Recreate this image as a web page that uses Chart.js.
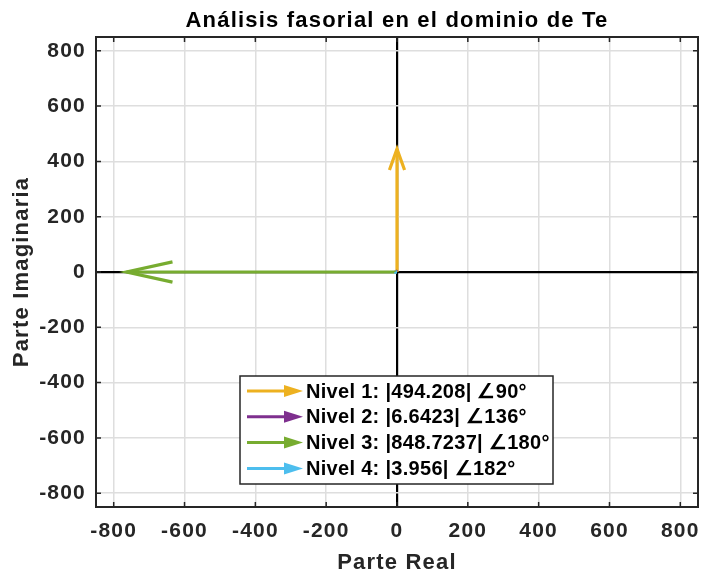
<!DOCTYPE html>
<html>
<head>
<meta charset="utf-8">
<script src="https://cdn.jsdelivr.net/npm/chart.js@4"></script>
<style>
  body { margin: 0; background: #fff; }
  #wrap { width: 701px; height: 577px; }
</style>
</head>
<body>
<div id="wrap"><canvas id="myChart"></canvas></div>
<script>
// phasor data (magnitude, angle in degrees)
var levelNames = ['Nivel 1', 'Nivel 2', 'Nivel 3', 'Nivel 4'];
var magnitudes = [494.208, 6.6423, 848.7237, 3.956];
var magText = ['494.208', '6.6423', '848.7237', '3.956'];
var anglesDeg = [90, 136, 180, 182];
var xTicks = [-800, -600, -400, -200, 0, 200, 400, 600, 800];
var yTicks = [-800, -600, -400, -200, 0, 200, 400, 600, 800];

var colors = ['#EDB120', '#7E2F8E', '#77AC30', '#4DBEEE'];
var quiverScale = 0.9;
var FONT = '"Liberation Sans", Arial, sans-serif';
var AXIS_COLOR = '#262626';
var SPACING = '1.2px';

var datasets = [];
for (var i = 0; i < magnitudes.length; i++) {
    var a = anglesDeg[i] * Math.PI / 180;
    var c = Math.cos(a), s = Math.sin(a);
    var L = magnitudes[i] * quiverScale;
    var tip = { x: L * c, y: L * s };
    var back = 0.17 * L, side = 0.048 * L;
    var h1 = { x: tip.x - back * c - side * s, y: tip.y - back * s + side * c };
    var h2 = { x: tip.x - back * c + side * s, y: tip.y - back * s - side * c };
    datasets.push({
        label: levelNames[i] + ': |' + magText[i] + '| \u2220' + anglesDeg[i] + '\u00B0',
        data: [{ x: 0, y: 0 }, tip],
        borderColor: colors[i],
        backgroundColor: colors[i],
        borderWidth: 3.2,
        showLine: true,
        pointRadius: 0,
        order: -2 * i
    });
    datasets.push({
        label: '_head' + i,
        data: [h1, tip, h2],
        borderColor: colors[i],
        backgroundColor: colors[i],
        borderWidth: 3.2,
        showLine: true,
        pointRadius: 0,
        order: -2 * i - 1
    });
}

// wider letter spacing, box, inner ticks, title and legend like the original figure
var boxPlugin = {
    id: 'boxPlugin',
    beforeLayout: function(chart) { chart.ctx.letterSpacing = SPACING; },
    beforeDraw: function(chart) { chart.ctx.letterSpacing = SPACING; },
    afterDatasetsDraw: function(chart) {
        var ctx = chart.ctx, area = chart.chartArea;
        var xs = chart.scales.x, ys = chart.scales.y;
        ctx.save();
        ctx.strokeStyle = AXIS_COLOR;
        ctx.lineWidth = 1.5;
        ctx.beginPath();
        xTicks.forEach(function(t) {
            var px = xs.getPixelForValue(t);
            ctx.moveTo(px, area.bottom); ctx.lineTo(px, area.bottom - 5);
            ctx.moveTo(px, area.top); ctx.lineTo(px, area.top + 5);
        });
        yTicks.forEach(function(t) {
            var py = ys.getPixelForValue(t);
            ctx.moveTo(area.left, py); ctx.lineTo(area.left + 5, py);
            ctx.moveTo(area.right, py); ctx.lineTo(area.right - 5, py);
        });
        ctx.stroke();
        ctx.lineWidth = 2;
        ctx.strokeRect(area.left, area.top, area.right - area.left, area.bottom - area.top);

        // title centred over the axes
        ctx.fillStyle = '#000';
        ctx.font = 'bold 22px ' + FONT;
        ctx.textAlign = 'center';
        ctx.textBaseline = 'middle';
        ctx.fillText('Análisis fasorial en el dominio de Te', (area.left + area.right) / 2, 21);

        // legend
        var lx = 240, ly = 376, lw = 313, lh = 108;
        ctx.fillStyle = '#fff';
        ctx.fillRect(lx, ly, lw, lh);
        ctx.lineWidth = 1.5;
        ctx.strokeStyle = AXIS_COLOR;
        ctx.strokeRect(lx, ly, lw, lh);
        var rows = chart.data.datasets.filter(function(d) { return d.label.indexOf('_head') !== 0; });
        ctx.letterSpacing = '0.3px';
        ctx.font = 'bold 20px ' + FONT;
        ctx.textBaseline = 'middle';
        ctx.textAlign = 'left';
        rows.forEach(function(d, k) {
            var y = ly + 15 + k * 25.8;
            ctx.strokeStyle = d.borderColor;
            ctx.fillStyle = d.borderColor;
            ctx.lineWidth = 3;
            ctx.beginPath();
            ctx.moveTo(247, y); ctx.lineTo(290, y);
            ctx.stroke();
            ctx.beginPath();
            ctx.moveTo(303, y); ctx.lineTo(284, y - 6); ctx.lineTo(284, y + 6);
            ctx.closePath();
            ctx.fill();
            ctx.fillStyle = '#000';
            ctx.fillText(d.label, 306, y + 1);
        });
        ctx.restore();
    }
};

var ctx = document.getElementById('myChart').getContext('2d');
var myChart = new Chart(ctx, {
    type: 'scatter',
    data: { datasets: datasets },
    options: {
        responsive: true,
        maintainAspectRatio: false,
        animation: false,
        layout: { padding: { left: 0, right: 3, top: 37, bottom: 0 } },
        plugins: {
            legend: { display: false },
            tooltip: { enabled: false },
            title: { display: false }
        },
        scales: {
            x: {
                type: 'linear',
                min: -850,
                max: 850,
                afterBuildTicks: function(scale) {
                    scale.ticks = xTicks.map(function(v) { return { value: v }; });
                },
                afterFit: function(scale) {
                    scale.height = 70;
                    scale.paddingLeft = 0;
                    scale.paddingRight = 0;
                },
                grid: {
                    drawTicks: false,
                    color: function(c) { return c.tick && c.tick.value === 0 ? '#000' : '#dedede'; },
                    lineWidth: function(c) { return c.tick && c.tick.value === 0 ? 2.2 : 1.5; }
                },
                border: { display: false },
                ticks: {
                    color: AXIS_COLOR,
                    padding: 12,
                    maxRotation: 0,
                    autoSkip: false,
                    font: { family: FONT, size: 21, weight: 'bold' }
                },
                title: {
                    display: true,
                    text: 'Parte Real',
                    color: AXIS_COLOR,
                    font: { family: FONT, size: 22, weight: 'bold' },
                    padding: { top: 0, bottom: 1 }
                }
            },
            y: {
                type: 'linear',
                min: -850,
                max: 850,
                afterBuildTicks: function(scale) {
                    scale.ticks = yTicks.map(function(v) { return { value: v }; });
                },
                afterFit: function(scale) {
                    scale.width = 96;
                    scale.paddingTop = 0;
                    scale.paddingBottom = 0;
                },
                grid: {
                    drawTicks: false,
                    color: function(c) { return c.tick && c.tick.value === 0 ? '#000' : '#dedede'; },
                    lineWidth: function(c) { return c.tick && c.tick.value === 0 ? 2.2 : 1.5; }
                },
                border: { display: false },
                ticks: {
                    color: AXIS_COLOR,
                    padding: 10,
                    autoSkip: false,
                    font: { family: FONT, size: 21, weight: 'bold' }
                },
                title: {
                    display: true,
                    text: 'Parte Imaginaria',
                    color: AXIS_COLOR,
                    font: { family: FONT, size: 22, weight: 'bold' },
                    padding: { top: 9, bottom: 0 }
                }
            }
        }
    },
    plugins: [boxPlugin]
});
</script>
</body>
</html>
